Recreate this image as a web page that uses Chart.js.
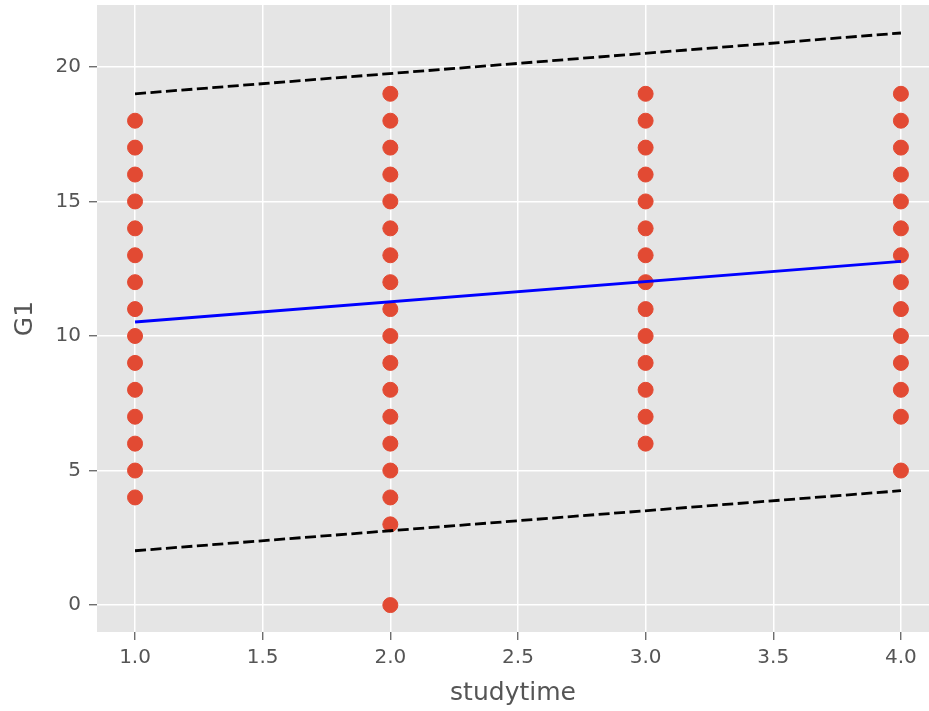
<!DOCTYPE html>
<html>
<head>
<meta charset="utf-8">
<script src="https://cdn.jsdelivr.net/npm/chart.js@4"></script>
<style>
  html, body { margin: 0; padding: 0; background: #fff; overflow: hidden; }
  #wrap { width: 929px; height: 711px; }
</style>
</head>
<body>
<div id="wrap"><canvas id="chart"></canvas></div>
<script>
// scatter points: studytime vs G1
const st1 = [4, 5, 6, 7, 8, 9, 10, 11, 12, 13, 14, 15, 16, 17, 18];
const st2 = [0, 3, 4, 5, 6, 7, 8, 9, 10, 11, 12, 13, 14, 15, 16, 17, 18, 19];
const st3 = [6, 7, 8, 9, 10, 11, 12, 13, 14, 15, 16, 17, 18, 19];
const st4 = [5, 7, 8, 9, 10, 11, 12, 13, 14, 15, 16, 17, 18, 19];

// fitted line and prediction band (ends at studytime 1 and 4)
const fitX = [1, 4];
const fitY = [10.52, 12.77];
const upperY = [19.0, 21.26];
const lowerY = [2.02, 4.25];

const xTicks = [1.0, 1.5, 2.0, 2.5, 3.0, 3.5, 4.0];
const yTicks = [0, 5, 10, 15, 20];

const points = [];
st1.forEach(v => points.push({x: 1, y: v}));
st2.forEach(v => points.push({x: 2, y: v}));
st3.forEach(v => points.push({x: 3, y: v}));
st4.forEach(v => points.push({x: 4, y: v}));

function toXY(ys) {
    return fitX.map((x, i) => ({x: x, y: ys[i]}));
}

// grey panel like ggplot style
const panelBg = {
    id: 'panelBg',
    beforeDraw(chart) {
        const a = chart.chartArea;
        const ctx = chart.ctx;
        ctx.save();
        ctx.fillStyle = '#e5e5e5';
        ctx.fillRect(a.left, a.top, a.right - a.left, a.bottom - a.top);
        ctx.restore();
    }
};

function noPad(s) {
    s.paddingTop = 0;
    s.paddingBottom = 0;
    s.paddingLeft = 0;
    s.paddingRight = 0;
}

const ctx = document.getElementById('chart').getContext('2d');
const chart = new Chart(ctx, {
    type: 'scatter',
    data: {
        datasets: [
            {
                label: 'G1',
                data: points,
                backgroundColor: '#e24a33',
                borderColor: '#e24a33',
                pointRadius: 7.5,
                pointHoverRadius: 7.5,
                order: 2
            },
            {
                type: 'line',
                label: 'fit',
                data: toXY(fitY),
                borderColor: '#0000ff',
                borderWidth: 2.8,
                pointRadius: 0,
                fill: false,
                order: 1
            },
            {
                type: 'line',
                label: 'upper',
                data: toXY(upperY),
                borderColor: '#000000',
                borderWidth: 2.8,
                borderDash: [11, 4.5],
                pointRadius: 0,
                fill: false,
                order: 0
            },
            {
                type: 'line',
                label: 'lower',
                data: toXY(lowerY),
                borderColor: '#000000',
                borderWidth: 2.8,
                borderDash: [11, 4.5],
                pointRadius: 0,
                fill: false,
                order: 0
            }
        ]
    },
    options: {
        responsive: true,
        maintainAspectRatio: false,
        animation: false,
        layout: { autoPadding: false, padding: { top: 5, right: 0, left: 0, bottom: 0 } },
        plugins: {
            legend: { display: false },
            tooltip: { enabled: false }
        },
        scales: {
            x: {
                type: 'linear',
                min: 0.851,
                max: 4.11,
                afterBuildTicks: s => { s.ticks = xTicks.map(v => ({value: v})); },
                afterFit: s => { s.height = 79; noPad(s); },
                border: { display: false },
                grid: { color: '#ffffff', lineWidth: 1.5, tickColor: '#555555', tickLength: 8, tickWidth: 1.2 },
                ticks: {
                    color: '#555555',
                    font: { family: 'DejaVu Sans', size: 20 },
                    padding: 6,
                    maxRotation: 0,
                    callback: v => v.toFixed(1)
                },
                title: {
                    display: true,
                    text: 'studytime',
                    color: '#555555',
                    font: { family: 'DejaVu Sans', size: 25 },
                    padding: { top: 0, bottom: 3 }
                }
            },
            y: {
                min: -1.0,
                max: 22.3,
                afterBuildTicks: s => { s.ticks = yTicks.map(v => ({value: v})); },
                afterFit: s => { s.width = 97; noPad(s); },
                border: { display: false },
                grid: { color: '#ffffff', lineWidth: 1.5, tickColor: '#555555', tickLength: 8, tickWidth: 1.2 },
                ticks: {
                    color: '#555555',
                    font: { family: 'DejaVu Sans', size: 20 },
                    padding: 8
                },
                title: {
                    display: true,
                    text: 'G1',
                    color: '#555555',
                    font: { family: 'DejaVu Sans', size: 25 },
                    padding: { top: 10, bottom: 0 }
                }
            }
        }
    },
    plugins: [panelBg]
});
</script>
</body>
</html>
